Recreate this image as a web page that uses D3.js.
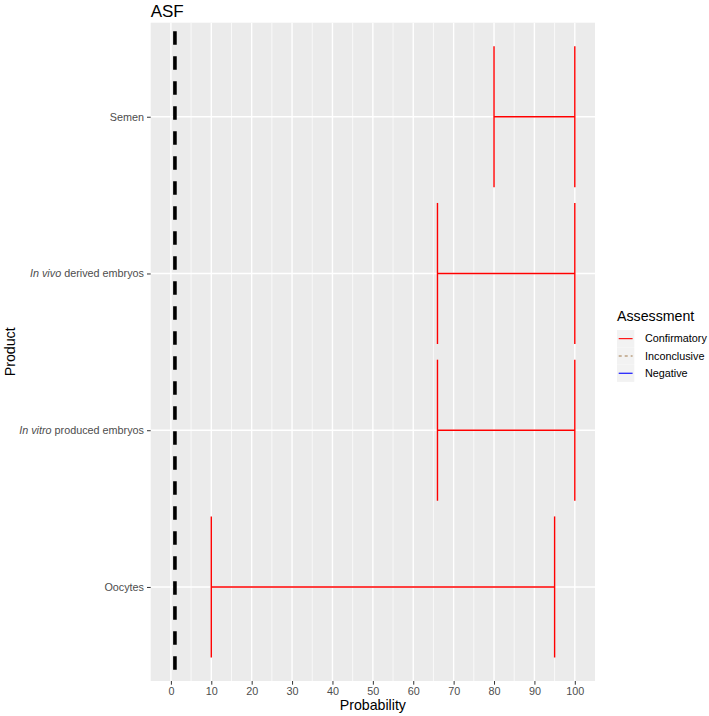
<!DOCTYPE html>
<html>
<head>
<meta charset="utf-8">
<script src="https://cdn.jsdelivr.net/npm/d3@7/dist/d3.min.js"></script>
<style>
  html, body { margin: 0; padding: 0; background: #fff; }
  svg { display: block; font-family: "Liberation Sans", Arial, sans-serif; }
</style>
</head>
<body>
<svg id="chart" width="709" height="716"></svg>
<script>
// ---- data ----
const products = ["Semen", "In vivo derived embryos", "In vitro produced embryos", "Oocytes"];
const productItalic = ["", "In vivo", "In vitro", ""];
const productRest = ["Semen", " derived embryos", " produced embryos", "Oocytes"];
const lowValues = [80, 66, 66, 10];
const highValues = [100, 100, 100, 95];
const assessment = ["Confirmatory", "Confirmatory", "Confirmatory", "Confirmatory"];
const referenceLine = 1;
const xTicks = [0, 10, 20, 30, 40, 50, 60, 70, 80, 90, 100];
const xMinor = [5, 15, 25, 35, 45, 55, 65, 75, 85, 95];
const legendLabels = ["Confirmatory", "Inconclusive", "Negative"];
const legendColors = ["#FF0000", "#A0784A", "#0000FF"];
const legendDash = [null, "3,3", null];

// ---- layout ----
const svg = d3.select("#chart");
const panel = { left: 150.7, top: 22.7, right: 595, bottom: 681 };

const x = d3.scaleLinear().domain([-5, 105]).range([panel.left, panel.right]);
const y = d3.scalePoint().domain(products).range([panel.top, panel.bottom]).padding(0.6);
const step = y.step();
const tickFont = "10.8px";

// panel background
svg.append("rect")
  .attr("x", panel.left).attr("y", panel.top)
  .attr("width", panel.right - panel.left).attr("height", panel.bottom - panel.top)
  .attr("fill", "#EBEBEB");

// minor grid
svg.append("g").selectAll("line").data(xMinor).join("line")
  .attr("x1", d => x(d)).attr("x2", d => x(d))
  .attr("y1", panel.top).attr("y2", panel.bottom)
  .attr("stroke", "#fff").attr("stroke-width", 0.7);

// major grid
svg.append("g").selectAll("line").data(xTicks).join("line")
  .attr("x1", d => x(d)).attr("x2", d => x(d))
  .attr("y1", panel.top).attr("y2", panel.bottom)
  .attr("stroke", "#fff").attr("stroke-width", 1.4);
svg.append("g").selectAll("line").data(products).join("line")
  .attr("x1", panel.left).attr("x2", panel.right)
  .attr("y1", d => y(d)).attr("y2", d => y(d))
  .attr("stroke", "#fff").attr("stroke-width", 1.4);

// error bars
const colorMap = { Confirmatory: "#FF0000", Inconclusive: "#A0784A", Negative: "#0000FF" };
const bars = svg.append("g");
products.forEach((p, i) => {
  const cy = y(p), h = step * 0.45;
  const col = colorMap[assessment[i]];
  bars.append("line")
    .attr("x1", x(lowValues[i])).attr("x2", x(highValues[i]))
    .attr("y1", cy).attr("y2", cy)
    .attr("stroke", col).attr("stroke-width", 1.4);
  [lowValues[i], highValues[i]].forEach(v => {
    bars.append("line")
      .attr("x1", x(v)).attr("x2", x(v))
      .attr("y1", cy - h).attr("y2", cy + h)
      .attr("stroke", col).attr("stroke-width", 1.4);
  });
});

// dashed reference line
svg.append("line")
  .attr("x1", x(referenceLine)).attr("x2", x(referenceLine))
  .attr("y1", panel.top).attr("y2", panel.bottom)
  .attr("stroke", "#000").attr("stroke-width", 3.6)
  .attr("stroke-dasharray", "13.5,11.5")
  .attr("stroke-dashoffset", -8.5);

// x axis
const xAxis = svg.append("g").attr("transform", `translate(0,${panel.bottom})`)
  .call(d3.axisBottom(x).tickValues(xTicks).tickSize(3.7).tickPadding(3));
xAxis.select(".domain").remove();
xAxis.selectAll("line").attr("stroke", "#333").attr("stroke-width", 1);
xAxis.selectAll("text").attr("fill", "#4D4D4D").style("font-size", tickFont)
  .style("font-family", "'Liberation Sans', Arial, sans-serif");

// y axis
const yAxis = svg.append("g").attr("transform", `translate(${panel.left},0)`)
  .call(d3.axisLeft(y).tickSize(3.7).tickPadding(3).tickFormat(""));
yAxis.select(".domain").remove();
yAxis.selectAll("line").attr("stroke", "#333").attr("stroke-width", 1);
products.forEach((p, i) => {
  const t = svg.append("text")
    .attr("x", panel.left - 3.7 - 3).attr("y", y(p))
    .attr("dy", "0.35em").attr("text-anchor", "end")
    .attr("fill", "#4D4D4D").style("font-size", tickFont);
  if (productItalic[i]) t.append("tspan").style("font-style", "italic").text(productItalic[i]);
  t.append("tspan").text(productRest[i]);
});

// axis titles
svg.append("text").attr("x", (panel.left + panel.right) / 2).attr("y", 710)
  .attr("text-anchor", "middle").style("font-size", "14.2px").attr("fill", "#000")
  .text("Probability");
svg.append("text")
  .attr("transform", `translate(15,${(panel.top + panel.bottom) / 2}) rotate(-90)`)
  .attr("text-anchor", "middle").style("font-size", "14.2px").attr("fill", "#000")
  .text("Product");

// title
svg.append("text").attr("x", panel.left).attr("y", 17)
  .style("font-size", "17px").attr("fill", "#000").text("ASF");

// legend
const lg = svg.append("g").attr("transform", "translate(617,0)");
lg.append("text").attr("x", 0).attr("y", 321).style("font-size", "14.2px").text("Assessment");
legendLabels.forEach((lab, i) => {
  const ky = 330 + i * 17.3;
  lg.append("rect").attr("x", 0).attr("y", ky).attr("width", 17.3).attr("height", 17.3)
    .attr("fill", "#F2F2F2");
  lg.append("line").attr("x1", 1.7).attr("x2", 15.6)
    .attr("y1", ky + 8.65).attr("y2", ky + 8.65)
    .attr("stroke", legendColors[i]).attr("stroke-width", 1.1)
    .attr("stroke-dasharray", legendDash[i]);
  lg.append("text").attr("x", 28).attr("y", ky + 8.65).attr("dy", "0.35em")
    .style("font-size", tickFont).attr("fill", "#000").text(lab);
});
</script>
</body>
</html>
